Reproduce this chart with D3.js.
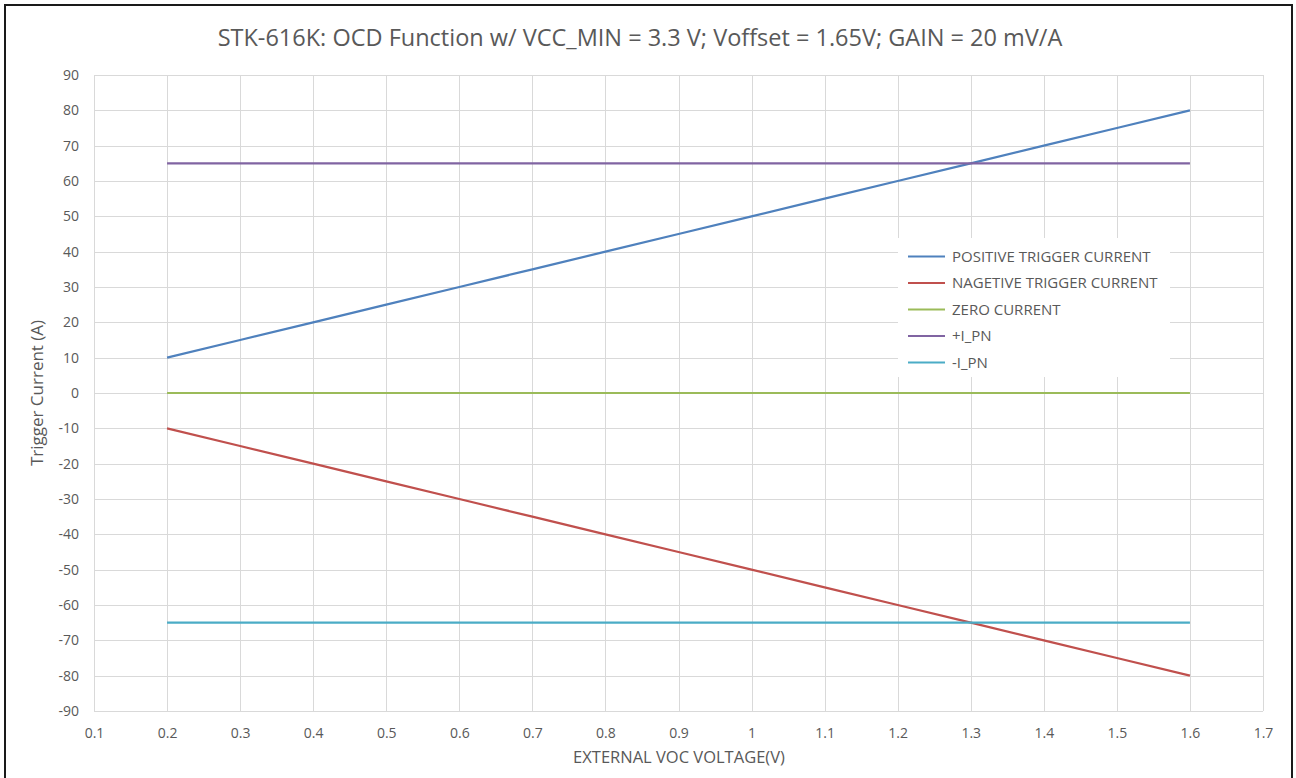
<!DOCTYPE html>
<html>
<head>
<meta charset="utf-8">
<script src="https://cdn.jsdelivr.net/npm/d3@7"></script>
<style>
  html, body { margin: 0; padding: 0; background: #fff; }
  svg { display: block; font-family: "Open Sans", "Noto Sans", sans-serif; }
</style>
</head>
<body>
<script>
// values
const voltage  = [0.2, 0.3, 0.4, 0.5, 0.6, 0.7, 0.8, 0.9, 1.0, 1.1, 1.2, 1.3, 1.4, 1.5, 1.6];
const positive = [10, 15, 20, 25, 30, 35, 40, 45, 50, 55, 60, 65, 70, 75, 80];
const negative = [-10, -15, -20, -25, -30, -35, -40, -45, -50, -55, -60, -65, -70, -75, -80];
const zero     = [0, 0, 0, 0, 0, 0, 0, 0, 0, 0, 0, 0, 0, 0, 0];
const plusIpn  = [65, 65, 65, 65, 65, 65, 65, 65, 65, 65, 65, 65, 65, 65, 65];
const minusIpn = [-65, -65, -65, -65, -65, -65, -65, -65, -65, -65, -65, -65, -65, -65, -65];

const seriesNames  = ["POSITIVE TRIGGER CURRENT", "NAGETIVE TRIGGER CURRENT", "ZERO CURRENT", "+I_PN", "-I_PN"];
const seriesValues = [positive, negative, zero, plusIpn, minusIpn];
const seriesColors = ["#4f81bd", "#c0504d", "#9bbb59", "#8064a2", "#4bacc6"];

const xTicks = [0.1, 0.2, 0.3, 0.4, 0.5, 0.6, 0.7, 0.8, 0.9, 1.0, 1.1, 1.2, 1.3, 1.4, 1.5, 1.6, 1.7];
const yTicks = [90, 80, 70, 60, 50, 40, 30, 20, 10, 0, -10, -20, -30, -40, -50, -60, -70, -80, -90];

const title = "STK-616K: OCD Function w/ VCC_MIN = 3.3 V; Voffset = 1.65V; GAIN = 20 mV/A";

const width = 1296, height = 778;
const plot = { left: 94, right: 1263, top: 75, bottom: 711 };
const textColor = "#595959";

const svg = d3.select("body").append("svg").attr("width", width).attr("height", height);

// frame around the chart
svg.append("rect").attr("x", 5).attr("y", 5).attr("width", 1287).attr("height", 800)
  .attr("fill", "#fff").attr("stroke", "#1a1a1a").attr("stroke-width", 2);

const x = d3.scaleLinear().domain([0.1, 1.7]).range([plot.left, plot.right]);
const y = d3.scaleLinear().domain([-90, 90]).range([plot.bottom, plot.top]);

// grid
const grid = svg.append("g").attr("class", "grid");
grid.selectAll(".hgrid").data(yTicks).enter().append("line")
  .attr("x1", plot.left).attr("x2", plot.right)
  .attr("y1", d => Math.round(y(d)) + 0.5).attr("y2", d => Math.round(y(d)) + 0.5)
  .attr("stroke", "#d9d9d9").attr("stroke-width", 1);
grid.selectAll(".vgrid").data(xTicks).enter().append("line")
  .attr("y1", plot.top).attr("y2", plot.bottom)
  .attr("x1", d => Math.round(x(d)) + 0.5).attr("x2", d => Math.round(x(d)) + 0.5)
  .attr("stroke", "#d9d9d9").attr("stroke-width", 1);

// axes labels through d3 axes, domain and ticks hidden
const xAxis = svg.append("g").attr("transform", `translate(0,${plot.bottom})`)
  .call(d3.axisBottom(x).tickValues(xTicks).tickSize(0).tickPadding(17).tickFormat(d => String(+d.toFixed(1))));
const yAxis = svg.append("g").attr("transform", `translate(${plot.left},0)`)
  .call(d3.axisLeft(y).tickValues(yTicks).tickSize(0).tickPadding(15).tickFormat(d => String(d)));
[xAxis, yAxis].forEach(a => {
  a.select(".domain").remove();
  a.selectAll("text").attr("fill", textColor).style("font-size", "14px")
    .style("font-family", "'Open Sans', sans-serif");
});

// series lines
const line = d3.line().x((d, i) => x(voltage[i])).y(d => y(d));
svg.append("g").selectAll("path").data(seriesValues).enter().append("path")
  .attr("d", d => line(d))
  .attr("fill", "none")
  .attr("stroke", (d, i) => seriesColors[i])
  .attr("stroke-width", 2.2);

// legend
const legend = svg.append("g").attr("transform", "translate(898,238)");
legend.append("rect").attr("width", 272).attr("height", 139).attr("fill", "#fff");
const rows = legend.selectAll(".row").data(seriesNames).enter().append("g")
  .attr("transform", (d, i) => `translate(0,${18.5 + i * 26.5})`);
rows.append("line").attr("x1", 10).attr("x2", 47).attr("y1", 0).attr("y2", 0)
  .attr("stroke", (d, i) => seriesColors[i]).attr("stroke-width", 2.2);
rows.append("text").attr("x", 54).attr("y", 0).attr("dy", "0.35em")
  .attr("fill", textColor).style("font-size", "15px").text(d => d);

// title
svg.append("text").attr("x", 640).attr("y", 38).attr("dy", "0.35em")
  .attr("text-anchor", "middle").attr("fill", textColor).style("font-size", "23.5px")
  .text(title);

// axis titles
svg.append("text").attr("x", 679).attr("y", 757).attr("dy", "0.35em")
  .attr("text-anchor", "middle").attr("fill", textColor).style("font-size", "16.5px")
  .text("EXTERNAL VOC VOLTAGE(V)");
svg.append("text").attr("transform", "translate(37,393) rotate(-90)").attr("dy", "0.35em")
  .attr("text-anchor", "middle").attr("fill", textColor).style("font-size", "17px")
  .text("Trigger Current (A)");
</script>
</body>
</html>
